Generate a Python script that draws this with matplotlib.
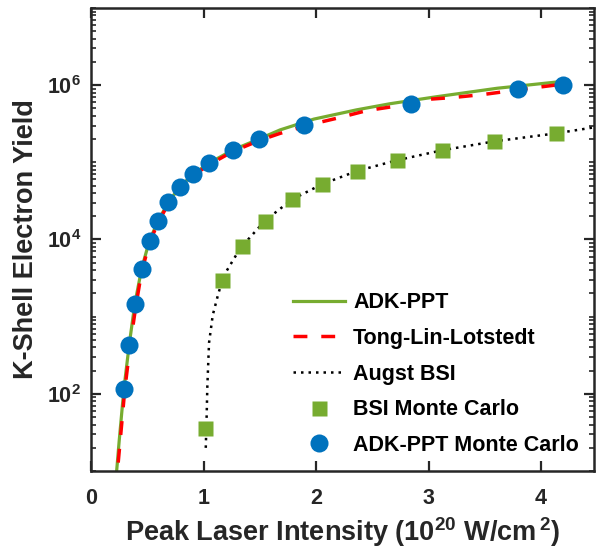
import numpy as np
import matplotlib
matplotlib.use("Agg")
import matplotlib.pyplot as plt
from matplotlib.ticker import FixedLocator, NullFormatter

plt.rcParams['font.family'] = ['Liberation Sans', 'DejaVu Sans']
plt.rcParams['mathtext.fontset'] = 'custom'
plt.rcParams['mathtext.rm'] = 'Liberation Sans:bold'
plt.rcParams['mathtext.bf'] = 'Liberation Sans:bold'
plt.rcParams['mathtext.it'] = 'Liberation Sans:bold'

# ADK-PPT theory curve (x in 1e20 W/cm^2, log10 yield)
adk_x = [0.22, 0.228, 0.25, 0.293, 0.34, 0.39, 0.45, 0.52, 0.60, 0.69, 0.79, 0.91,
         1.05, 1.26, 1.49, 1.68, 1.98, 2.36, 2.66, 3.07, 3.61, 4.20]
adk_log = [0.87, 1.0, 1.38, 2.07, 2.64, 3.17, 3.62, 3.99, 4.25, 4.49, 4.68, 4.85,
           4.99, 5.16, 5.30, 5.42, 5.56, 5.68, 5.76, 5.85, 5.96, 6.05]

# Tong-Lin-Lotstedt curve
tll_x = [0.22, 0.235, 0.26, 0.30, 0.35, 0.40, 0.45, 0.52, 0.60, 0.69, 0.79, 0.91,
         1.05, 1.26, 1.49, 1.68, 1.95, 2.21, 2.45, 2.72, 2.98, 3.22, 3.49, 3.80, 4.05, 4.15]
tll_log = [0.75, 1.0, 1.40, 2.05, 2.65, 3.15, 3.58, 3.96, 4.23, 4.47, 4.66, 4.83,
           4.97, 5.14, 5.28, 5.375, 5.49, 5.58, 5.67, 5.73, 5.815, 5.84, 5.88, 5.94, 5.987, 6.005]

# Augst BSI curve
bsi_x = [1.02, 1.028, 1.034, 1.049, 1.082, 1.132, 1.167, 1.2, 1.295, 1.345, 1.547, 1.787,
         2.051, 2.362, 2.717, 3.117, 3.585, 4.131, 4.47]
bsi_log = [1.30, 1.72, 2.10, 2.66, 3.02, 3.30, 3.47, 3.58, 3.81, 3.917, 4.245, 4.519,
           4.715, 4.887, 5.026, 5.155, 5.272, 5.375, 5.453]

# BSI Monte Carlo points
bsimc_x = [1.013, 1.167, 1.345, 1.547, 1.787, 2.051, 2.362, 2.717, 3.117, 3.585, 4.131]
bsimc_y = [36.6, 2960, 8260, 17600, 33000, 51900, 77200, 106000, 143000, 187000, 237000]

# ADK-PPT Monte Carlo points
adkmc_x = [0.293, 0.340, 0.391, 0.453, 0.522, 0.598, 0.687, 0.791, 0.909, 1.052,
           1.265, 1.493, 1.896, 2.844, 3.798, 4.198]
adkmc_y = [116, 424, 1455, 4170, 9680, 17600, 30400, 47500, 70000, 97000,
           144000, 199000, 304000, 568000, 880000, 1010000]

green = '#77AC30'
blue = '#0072BD'
txt = '#262626'

fig = plt.figure(figsize=(5.97, 5.51), dpi=100)
ax = fig.add_axes([0.1524, 0.1452, 0.8426, 0.8403])

ax.plot(adk_x, 10 ** np.array(adk_log), '-', color=green, lw=2.3, label='ADK-PPT')
ax.plot(tll_x, 10 ** np.array(tll_log), color='#FF0000', lw=2.5,
        linestyle=(0, (4, 4)), dash_capstyle='butt', label='Tong-Lin-Lotstedt')
ax.plot(bsi_x, 10 ** np.array(bsi_log), color='black', lw=1.8,
        linestyle=(0, (1, 2)), label='Augst BSI')
ax.plot(bsimc_x, bsimc_y, 's', color=green, ms=10.8, mec='none', label='BSI Monte Carlo')
ax.plot(adkmc_x, adkmc_y, 'o', color=blue, ms=13, mec='none', label='ADK-PPT Monte Carlo')

ax.set_yscale('log')
ax.set_xlim(0, 4.47)
ax.set_ylim(10, 1e7)

ax.set_xticks([0, 1, 2, 3, 4])
ax.set_xticklabels(['0', '1', '2', '3', '4'])
ax.yaxis.set_major_locator(FixedLocator([1e2, 1e4, 1e6]))
ax.set_yticklabels([r'$\mathbf{10^{2}}$', r'$\mathbf{10^{4}}$', r'$\mathbf{10^{6}}$'])
minors = []
for k in range(1, 7):
    for m in range(1, 10):
        v = m * 10 ** k
        if v not in (1e2, 1e4, 1e6):
            minors.append(v)
minors.append(1e7)
ax.yaxis.set_minor_locator(FixedLocator(minors))
ax.yaxis.set_minor_formatter(NullFormatter())

ax.tick_params(axis='both', which='major', direction='in', length=7, width=1.6,
               top=True, right=True, labelsize=15.5, colors=txt)
ax.tick_params(axis='x', which='major', pad=12)
ax.tick_params(axis='y', which='major', pad=7)
ax.tick_params(axis='y', which='minor', direction='in', length=3.5, width=1.2,
               left=True, right=True, colors=txt)
for lab in ax.get_xticklabels() + ax.get_yticklabels():
    lab.set_fontweight('bold')
for s in ax.spines.values():
    s.set_linewidth(1.8)
    s.set_color(txt)

ax.set_xlabel(r'Peak Laser Intensity (10$^{\mathbf{20}}$ W/cm$^{\,\mathbf{2}}$)',
              fontsize=19.5, fontweight='bold', color=txt, labelpad=5)
ax.set_ylabel('K-Shell Electron Yield', fontsize=19.5, fontweight='bold', color=txt, labelpad=6)

leg = ax.legend(loc='lower right', frameon=False, fontsize=15.5, handlelength=2.4,
                handletextpad=0.4, labelspacing=0.68, borderaxespad=0.3,
                bbox_to_anchor=(1.0, 0.0))
for t in leg.get_texts():
    t.set_fontweight('bold')
    t.set_color('black')

fig.savefig('out.png', dpi=100)
